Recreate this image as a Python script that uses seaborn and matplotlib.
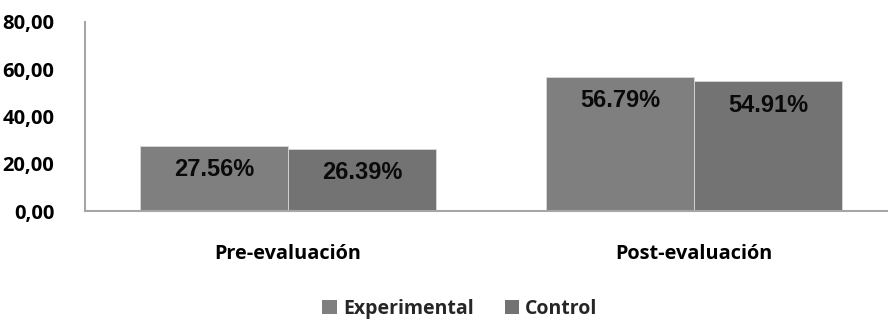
import matplotlib
matplotlib.use("Agg")
import matplotlib.pyplot as plt
import seaborn as sns
import pandas as pd
from matplotlib.patches import Patch

# Data
categories = ["Pre-evaluación", "Post-evaluación"]
groups = ["Experimental", "Control"]
experimental = [27.56, 56.79]
control = [26.39, 54.91]
y_ticks = [0, 20, 40, 60, 80]

colors = {"Experimental": "#7f7f7f", "Control": "#737373"}

df = pd.DataFrame({
    "fase": categories * 2,
    "grupo": [groups[0]] * len(categories) + [groups[1]] * len(categories),
    "valor": experimental + control,
})

sns.set_theme(style="white")
plt.rcParams["font.family"] = ["Open Sans", "DejaVu Sans"]

fig = plt.figure(figsize=(8.88, 3.2), dpi=100)
ax = fig.add_axes([85 / 888, 1 - 211 / 320, 1 - 85 / 888, (211 - 22) / 320])

sns.barplot(data=df, x="fase", y="valor", hue="grupo", order=categories,
            hue_order=groups, palette=colors, width=0.73, saturation=1,
            edgecolor="#d9d9d9", linewidth=0.6, legend=False, ax=ax)

ax.set_ylim(0, 80)
ax.set_xlim(-0.5, 1.478)
ax.set_yticks(y_ticks)
ax.set_yticklabels([f"{t:.2f}".replace(".", ",") for t in y_ticks],
                   fontsize=14.5, fontweight="bold", color="black")
ax.set_xticks(range(len(categories)))
ax.set_xticklabels(categories, fontsize=14.3, fontweight="bold", color="black")
ax.tick_params(axis="y", length=0, pad=22)
ax.tick_params(axis="x", length=0, pad=24)
ax.set_xlabel("")
ax.set_ylabel("")

for side in ["top", "right"]:
    ax.spines[side].set_visible(False)
for side in ["left", "bottom"]:
    ax.spines[side].set_color("#a6a6a6")
    ax.spines[side].set_linewidth(1.5)

# Value labels just inside the top of each bar
for container in ax.containers:
    for bar in container:
        h = bar.get_height()
        ax.annotate(f"{h:.2f}%", (bar.get_x() + bar.get_width() / 2, h),
                    xytext=(0, -9), textcoords="offset points",
                    ha="center", va="top", fontsize=17, fontweight="bold",
                    family=["Liberation Sans", "DejaVu Sans"], color="#0a0a0a")

handles = [Patch(facecolor=colors[g], edgecolor="none", label=g) for g in groups]
fig.legend(handles=handles, loc="center", bbox_to_anchor=(0.518, 0.035), ncol=2,
           frameon=False, handlelength=0.75, handleheight=0.75, handletextpad=0.3,
           columnspacing=1.6, prop={"size": 14, "weight": "bold"})

fig.savefig("out.png", dpi=100)
